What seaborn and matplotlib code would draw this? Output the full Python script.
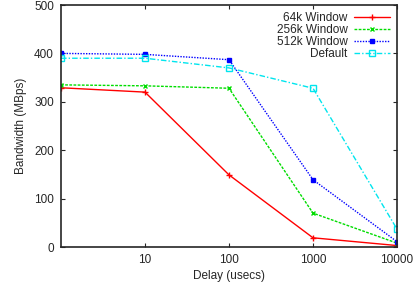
import pandas as pd
import matplotlib
matplotlib.use("Agg")
import matplotlib.pyplot as plt
import seaborn as sns

# values
delays = [1, 10, 100, 1000, 10000]
bw_64k = [329, 320, 149, 19, 3]
bw_256k = [335, 333, 328, 70, 8]
bw_512k = [400, 398, 387, 139, 11]
bw_default = [390, 390, 370, 328, 37]

series = ["64k Window", "256k Window", "512k Window", "Default"]
values = [bw_64k, bw_256k, bw_512k, bw_default]

rows = []
for name, vals in zip(series, values):
    for d, v in zip(delays, vals):
        rows.append({"delay": d, "bw": v, "series": name})
data = pd.DataFrame(rows)

sns.set_style("ticks")
plt.rcParams["font.family"] = ["Liberation Sans", "DejaVu Sans"]

styles = {
    "64k Window": dict(color="#ff0000", ls="-", marker="+", ms=4, mfc="#ff0000"),
    "256k Window": dict(color="#00dd00", ls=(0, (2, 1)), marker="x", ms=3.5, mfc="#00dd00"),
    "512k Window": dict(color="#0000ff", ls=(0, (1, 1)), marker="s", ms=3, mfc="#0000ff"),
    "Default": dict(color="#00e5ee", ls=(0, (4, 1.5, 1, 1.5)), marker="s", ms=4, mfc="none"),
}

fig = plt.figure(figsize=(4.14, 2.88), dpi=100)
ax = fig.add_axes([61 / 414, 1 - 247 / 288, 336 / 414, 242 / 288])

for name in series:
    st = styles[name]
    sns.lineplot(
        data=data[data["series"] == name], x="delay", y="bw", ax=ax,
        color=st["color"], linestyle=st["ls"], marker=st["marker"],
        markersize=st["ms"], markerfacecolor=st["mfc"],
        markeredgecolor=st["color"], markeredgewidth=1,
        linewidth=1, label=name,
    )

ax.set_xscale("log")
ax.set_xlim(1, 10000)
ax.set_ylim(0, 500)
ax.set_xticks([10, 100, 1000, 10000])
ax.set_xticklabels(["10", "100", "1000", "10000"])
ax.minorticks_off()
ax.set_yticks([0, 100, 200, 300, 400, 500])
ax.tick_params(direction="in", top=True, right=True, labelsize=8.5, length=3, width=0.8, pad=5)
for s in ax.spines.values():
    s.set_linewidth(1.2)

ax.set_xlabel("Delay (usecs)", fontsize=8.5, labelpad=3)
ax.set_ylabel("Bandwidth (MBps)", fontsize=8.5, labelpad=5)

ax.legend(loc="upper right", frameon=False, markerfirst=False, fontsize=8.5,
          handlelength=3.0, handletextpad=0.6, labelspacing=0.0,
          borderaxespad=0.2)

# clipped caption at the very bottom
fig.text(0.6, -0.07, "Figure 4: IB SDP Bandwidth", fontsize=15, fontweight="bold",
         color="#aaaaaa", ha="center", va="bottom")

fig.savefig("out.png", dpi=100)
